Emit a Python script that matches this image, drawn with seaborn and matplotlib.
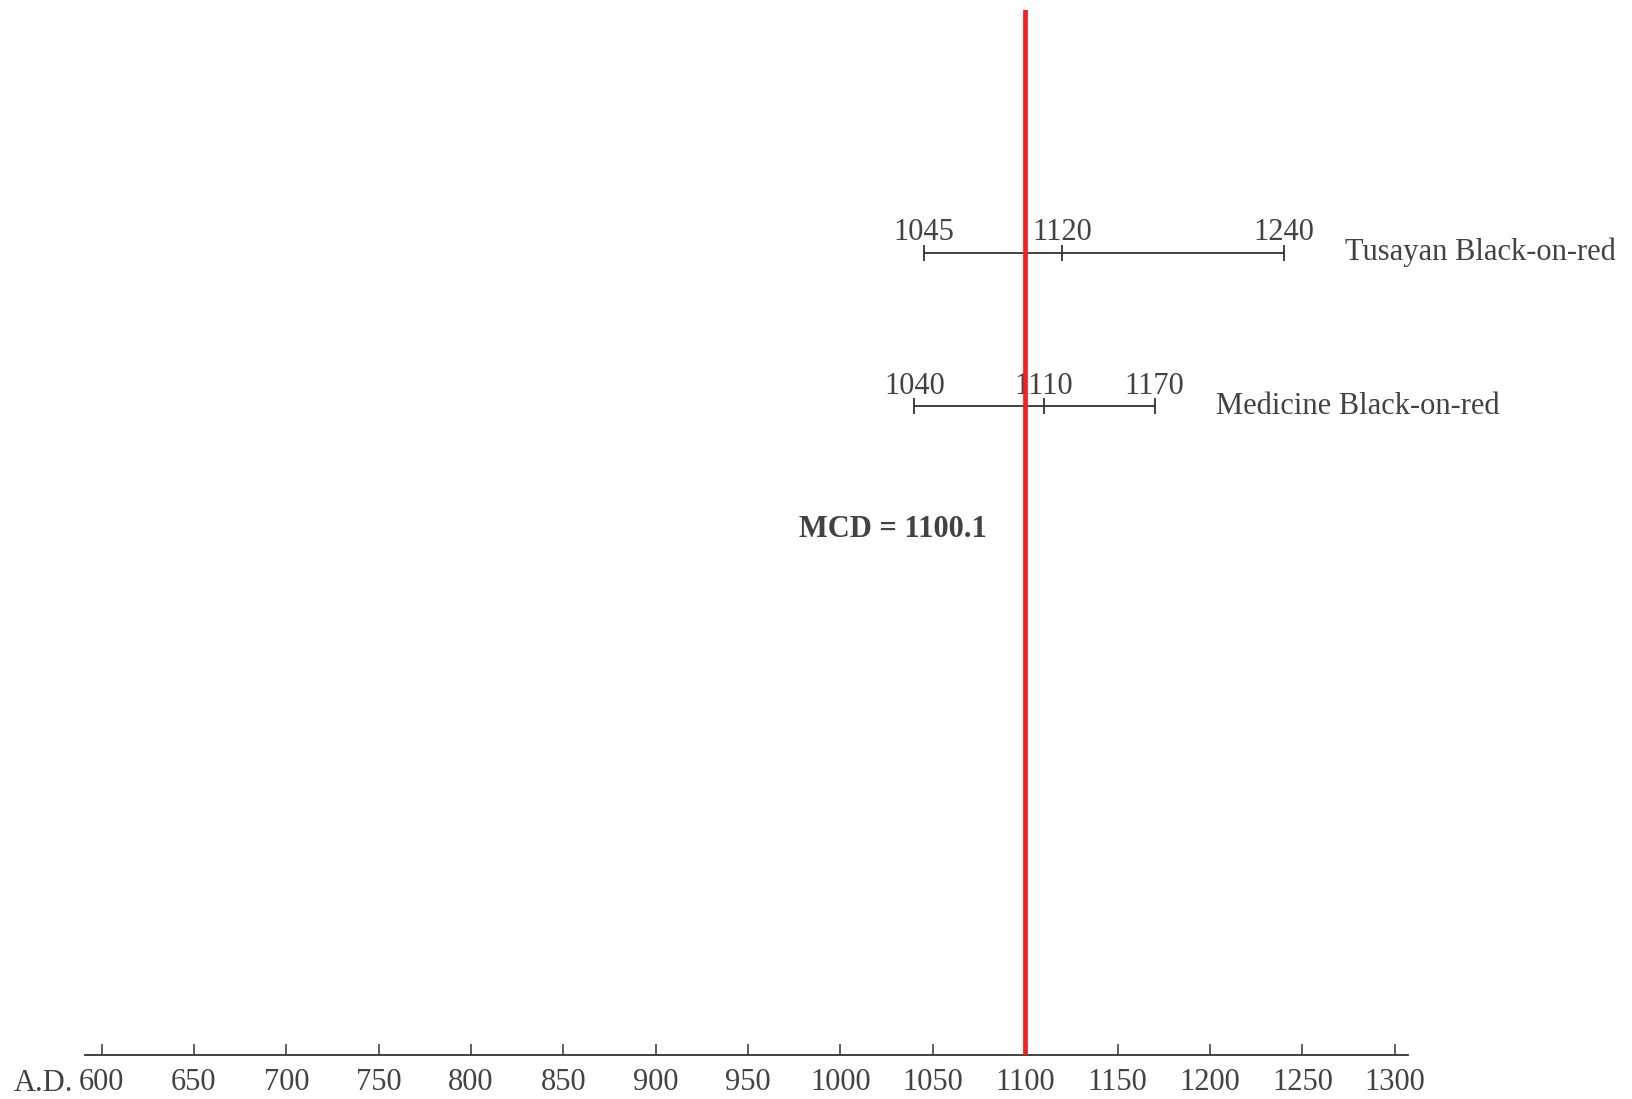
import numpy as np
import pandas as pd
import matplotlib
matplotlib.use('Agg')
import matplotlib.pyplot as plt
import seaborn as sns

# ceramic types and their date ranges
types = ['Tusayan Black-on-red', 'Medicine Black-on-red']
rows = [1, 0]
begin = [1045, 1040]
mid = [1120, 1110]
end = [1240, 1170]
mcd = 1100.1
years = np.arange(600, 1301, 50)

sns.set_style('white')
plt.rcParams['font.family'] = ['Liberation Serif', 'DejaVu Serif']
ink = '#424242'

df = pd.DataFrame({'type': types, 'row': rows, 'begin': begin, 'mid': mid, 'end': end})
long = df.melt(id_vars=['type', 'row'], value_vars=['begin', 'mid', 'end'],
               var_name='pos', value_name='year')

fig = plt.figure(figsize=(16.33, 10.99), dpi=100)
ax = fig.add_axes([0.052, 0.040, 0.810, 0.951])

sns.lineplot(data=long, x='year', y='row', units='type', estimator=None, sort=True,
             color='#333333', lw=1.3, marker='|', markersize=11,
             markeredgewidth=1.3, markeredgecolor='#333333', legend=False, ax=ax)

# date labels above each bar
for _, r in long.iterrows():
    ax.annotate(str(r['year']), (r['year'], r['row']), xytext=(0, 4),
                textcoords='offset points', ha='center', va='bottom',
                fontsize=22, color=ink)

# type names to the right
for t, y, e in zip(types, rows, end):
    ax.annotate(t, (e, y), xytext=(44, 0), textcoords='offset points',
                ha='left', va='center', fontsize=22, color=ink)

ax.axvline(mcd, color='#ee2424', lw=3.4, zorder=5)
ax.annotate(f'MCD = {mcd}', (mcd, -0.8), xytext=(-28, 0), textcoords='offset points',
            ha='right', va='center', fontsize=22, fontweight='bold', color=ink)

ax.set_xlim(591, 1307)
ax.set_ylim(-4.22, 2.58)
ax.set_xticks(years)
ax.set_yticks([])
ax.set_xlabel('')
ax.set_ylabel('')
ax.tick_params(axis='x', bottom=True, direction='in', length=8, width=1.1,
               color='#333333', labelsize=22, labelcolor=ink, pad=9)
for s in ['left', 'top', 'right']:
    ax.spines[s].set_visible(False)
ax.spines['bottom'].set_color('#333333')
ax.spines['bottom'].set_linewidth(1.3)

fig.text(0.0447, 0.014, 'A.D.', ha='right', va='center', fontsize=22, color=ink)

fig.savefig('out.png', dpi=100)
